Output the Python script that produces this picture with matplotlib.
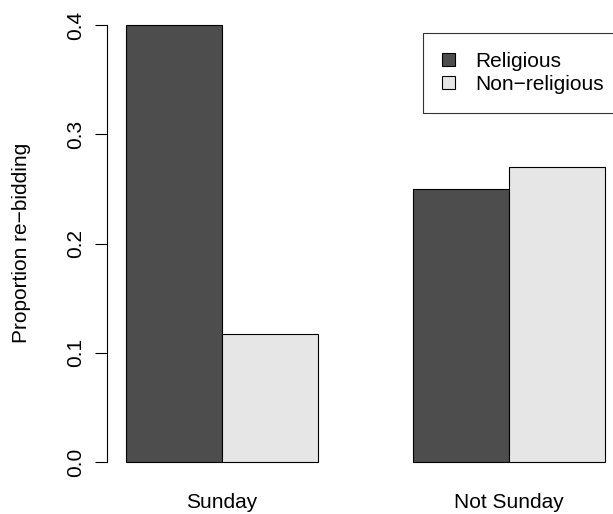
import matplotlib
matplotlib.use('Agg')
import matplotlib.pyplot as plt
from matplotlib.patches import Patch

groups = ['Sunday', 'Not Sunday']
series = ['Religious', 'Non\u2212religious']
religious = [0.40, 0.25]
non_religious = [0.117, 0.27]
colors = ['#4d4d4d', '#e6e6e6']
yticks = [0.0, 0.1, 0.2, 0.3, 0.4]

plt.rcParams['font.family'] = ['Liberation Sans', 'DejaVu Sans']
FS = 15

W, H = 613, 514
fig = plt.figure(figsize=(W / 100, H / 100), dpi=100)
# plot region in pixels (R-like layout, right edge runs past the figure)
left, right, top, bottom = 107, 624, 7.5, 479.5
ax = fig.add_axes([left / W, (H - bottom) / H, (right - left) / W, (bottom - top) / H])

# R barplot(beside=TRUE) positions: bars of width 1, one bar gap between groups
x_rel = [1.5, 4.5]
x_non = [2.5, 5.5]
ax.bar(x_rel, religious, width=1.0, color=colors[0], edgecolor='black', linewidth=0.8)
ax.bar(x_non, non_religious, width=1.0, color=colors[1], edgecolor='black', linewidth=0.8)

ax.set_xlim(0.8, 6.2)
ax.set_ylim(-0.016, 0.416)

for s in ['top', 'right', 'bottom']:
    ax.spines[s].set_visible(False)
ax.spines['left'].set_bounds(0, 0.4)
ax.spines['left'].set_linewidth(0.8)
ax.set_xticks([])
ax.set_yticks(yticks)
ax.set_yticklabels([f'{t:.1f}' for t in yticks], rotation=90, va='center', fontsize=FS)
ax.tick_params(axis='y', length=8.6, width=0.8, pad=7)

fig.text(22 / W, 1 - 243 / H, 'Proportion re\u2212bidding', rotation=90,
         ha='center', va='center', fontsize=FS)

for xc, g in zip([2.0, 5.0], groups):
    xp = ax.transData.transform((xc, 0))[0] / W
    fig.text(xp, 1 - 502 / H, g, ha='center', va='center', fontsize=FS)

handles = [Patch(facecolor=c, edgecolor='black', linewidth=0.8) for c in colors]
leg = ax.legend(handles, series, loc='upper left',
                bbox_to_anchor=(423 / W, 1 - 33 / H), bbox_transform=fig.transFigure,
                fontsize=FS, frameon=True, fancybox=False, handlelength=0.62,
                handleheight=0.62, handletextpad=1.0, borderpad=0.9, labelspacing=0.2,
                borderaxespad=0)
leg.get_frame().set_edgecolor('black')
leg.get_frame().set_linewidth(0.8)

fig.savefig('out.png', dpi=100)
